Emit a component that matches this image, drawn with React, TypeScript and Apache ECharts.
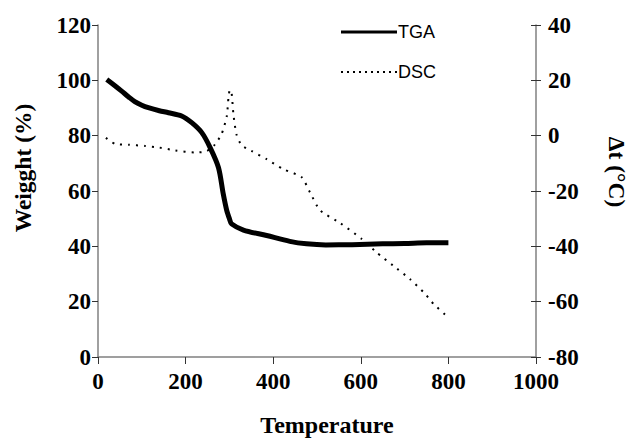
import React, { useEffect, useRef } from "react";
import * as echarts from "echarts";

const xTicks = [0, 200, 400, 600, 800, 1000];
const leftTicks = [0, 20, 40, 60, 80, 100, 120];
const rightTicks = [-80, -60, -40, -20, 0, 20, 40];

const tgaTemp = [20, 35, 54, 70, 84, 100, 115, 140, 161, 191, 214, 237, 256, 275, 286, 294, 300, 305, 332, 385, 438, 476, 520, 580, 650, 700, 750, 800];
const tgaWeight = [100.3, 98.5, 96.1, 94, 92.3, 91, 90.1, 89, 88.3, 87.1, 84.7, 81.1, 75.7, 68.5, 58.9, 52.9, 50, 48.1, 45.9, 43.9, 41.8, 40.9, 40.5, 40.6, 40.9, 41, 41.3, 41.3];

const dscTemp = [18, 39, 70, 107, 140, 176, 221, 244, 257, 267, 282, 294, 298, 301, 305, 309, 316, 328, 350, 385, 423, 465, 484, 507, 553, 602, 636, 674, 712, 747, 766, 795];
const dscDelta = [-0.8, -3, -3.3, -3.7, -4.3, -5.3, -6.1, -5.8, -4.8, -3.2, 0.5, 7, 14, 16.5, 15.5, 8, 0.5, -3.5, -5.5, -8.5, -12.1, -15, -20.5, -27, -31.6, -37.3, -42.2, -47, -51.8, -57.2, -60.8, -65];

const seriesNames = ["TGA", "DSC"];
const xTitle = "Temperature";
const leftTitle = "Weigght (%)";
const rightTitle = "Δt (°C)";

const serif = '"Liberation Serif", "Times New Roman", serif';
const sans = '"Liberation Sans", Arial, sans-serif';

export default function App() {
  const ref = useRef<HTMLDivElement>(null);
  useEffect(() => {
    document.body.style.margin = "0";
    const chart = echarts.init(ref.current!, null, { renderer: "svg" });
    const labelStyle = {
      formatter: (v: number) => "{t|" + String(v) + "}",
      rich: { t: { color: "#000", fontFamily: serif, fontWeight: "bold", fontSize: 23 } },
      color: "#000",
      fontFamily: serif,
      fontWeight: "bold",
      fontSize: 23,
    };
    const axisLine = { show: true, lineStyle: { color: "#808080", width: 1.5 } };
    const tick = { lineStyle: { color: "#333", width: 1 } };
    chart.setOption({
      animation: false,
      backgroundColor: "#fff",
      textStyle: { fontFamily: serif },
      grid: { left: 98, right: 93, top: 25, bottom: 82 },
      xAxis: {
        type: "value",
        min: xTicks[0],
        max: xTicks[xTicks.length - 1],
        interval: 200,
        axisLine,
        axisTick: { show: true, length: 7, ...tick },
        axisLabel: { ...labelStyle, margin: 13 },
        splitLine: { show: false },
      },
      yAxis: [
        {
          type: "value",
          position: "left",
          min: leftTicks[0],
          max: leftTicks[leftTicks.length - 1],
          interval: 20,
          axisLine,
          axisTick: { show: true, length: 6, ...tick },
          axisLabel: { ...labelStyle, margin: 7 },
          splitLine: { show: false },
        },
        {
          type: "value",
          position: "right",
          min: rightTicks[0],
          max: rightTicks[rightTicks.length - 1],
          interval: 20,
          axisLine,
          axisTick: { show: true, length: 5, ...tick },
          axisLabel: { ...labelStyle, margin: 12 },
          splitLine: { show: false },
        },
        {
          type: "value",
          position: "right",
          min: rightTicks[0],
          max: rightTicks[rightTicks.length - 1],
          interval: 20,
          axisLine: { show: false },
          axisTick: { show: true, inside: true, length: 5, ...tick },
          axisLabel: { show: false },
          splitLine: { show: false },
        },
      ],
      series: [
        {
          name: seriesNames[1],
          type: "line",
          yAxisIndex: 1,
          data: dscTemp.map((t, i) => [t, dscDelta[i]]),
          showSymbol: false,
          smooth: 0.2,
          lineStyle: { color: "#000", width: 2, type: [2, 6] },
          z: 2,
        },
        {
          name: seriesNames[0],
          type: "line",
          yAxisIndex: 0,
          data: tgaTemp.map((t, i) => [t, tgaWeight[i]]),
          showSymbol: false,
          smooth: 0.3,
          lineStyle: { color: "#000", width: 5 },
          z: 3,
        },
      ],
      graphic: [
        { type: "line", shape: { x1: 341, y1: 32, x2: 397, y2: 32 }, style: { stroke: "#000", lineWidth: 3 } },
        { type: "text", x: 398, y: 32, style: { text: seriesNames[0], font: `18px ${sans}`, fill: "#000", verticalAlign: "middle" } },
        { type: "line", shape: { x1: 341, y1: 72, x2: 397, y2: 72 }, style: { stroke: "#000", lineWidth: 2, lineDash: [2, 4] } },
        { type: "text", x: 398, y: 72, style: { text: seriesNames[1], font: `18px ${sans}`, fill: "#000", verticalAlign: "middle" } },
        { type: "text", x: 327, y: 425, style: { text: xTitle, font: `bold 24px ${serif}`, fill: "#000", align: "center", verticalAlign: "middle" } },
        { type: "text", x: 23, y: 168, rotation: Math.PI / 2, style: { text: leftTitle, font: `bold 23.5px ${serif}`, fill: "#000", align: "center", verticalAlign: "middle" } },
        { type: "text", x: 617, y: 172, rotation: -Math.PI / 2, style: { text: rightTitle, font: `bold 23.5px ${serif}`, fill: "#000", align: "center", verticalAlign: "middle" } },
      ],
    });
    return () => chart.dispose();
  }, []);
  return <div ref={ref} style={{ position: "fixed", left: 0, top: 0, width: 629, height: 439 }} />;
}
